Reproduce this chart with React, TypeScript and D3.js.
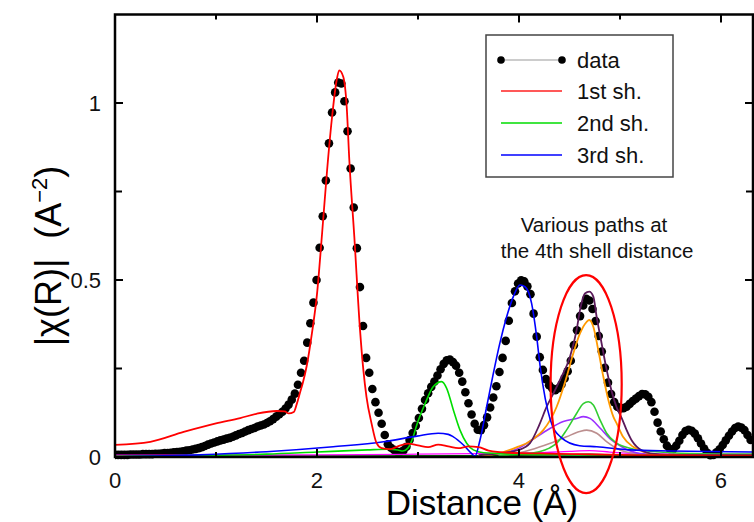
import React from "react";
import * as d3 from "d3";

const W = 754;
const H = 522;

// FT grid spacing of the data (Å)
const DR = 0.0307;

// |chi(R)| data points on the DR grid
const dataChi = [
  0.006, 0.006, 0.006, 0.006, 0.006, 0.007, 0.007, 0.007, 0.007, 0.008,
  0.008, 0.008, 0.008, 0.009, 0.009, 0.010, 0.011, 0.011, 0.012, 0.013,
  0.014, 0.015, 0.016, 0.018, 0.019, 0.021, 0.023, 0.025, 0.028, 0.031,
  0.035, 0.038, 0.041, 0.044, 0.047, 0.049, 0.052, 0.054, 0.057, 0.061,
  0.065, 0.068, 0.072, 0.076, 0.079, 0.082, 0.086, 0.089, 0.092, 0.096,
  0.101, 0.107, 0.114, 0.121, 0.128, 0.137, 0.148, 0.162, 0.179, 0.204,
  0.238, 0.272, 0.323, 0.378, 0.436, 0.500, 0.591, 0.680, 0.781, 0.886,
  0.973, 1.030, 1.058, 1.055, 1.005, 0.920, 0.815, 0.705, 0.590, 0.480,
  0.370, 0.280, 0.238, 0.192, 0.155, 0.125, 0.094, 0.062, 0.036, 0.026,
  0.020, 0.015, 0.014, 0.018, 0.029, 0.048, 0.068, 0.088, 0.110, 0.136,
  0.161, 0.180, 0.198, 0.213, 0.230, 0.248, 0.263, 0.273, 0.275, 0.268,
  0.258, 0.238, 0.213, 0.183, 0.152, 0.120, 0.094, 0.077, 0.076, 0.090,
  0.112, 0.140, 0.168, 0.200, 0.240, 0.280, 0.328, 0.385, 0.435, 0.468,
  0.490, 0.499, 0.496, 0.482, 0.460, 0.405, 0.340, 0.282, 0.246, 0.220,
  0.203, 0.194, 0.189, 0.194, 0.205, 0.222, 0.242, 0.272, 0.316, 0.358,
  0.398, 0.428, 0.447, 0.442, 0.418, 0.384, 0.342, 0.298, 0.252, 0.210,
  0.178, 0.155, 0.142, 0.137, 0.138, 0.142, 0.150, 0.158, 0.165, 0.172,
  0.178, 0.177, 0.170, 0.155, 0.128, 0.097, 0.072, 0.050, 0.032, 0.022,
  0.022, 0.032, 0.046, 0.062, 0.073, 0.077, 0.074, 0.066, 0.053, 0.038,
  0.024, 0.012, 0.005, 0.006, 0.013, 0.022, 0.034, 0.047, 0.060, 0.072,
  0.082, 0.086, 0.083, 0.076, 0.062, 0.048, 0.036,
];

// 1st shell fit
const shell1R = [0, 0.35, 0.68, 1.0, 1.24, 1.4, 1.6, 1.68, 1.72, 1.77, 1.8, 1.83, 1.86, 1.9, 1.95, 2.0, 2.05, 2.1, 2.146, 2.195, 2.22, 2.26, 2.294, 2.32, 2.37, 2.426, 2.459, 2.49, 2.54, 2.59, 2.64, 2.72, 2.8, 2.9, 3.0, 3.1, 3.2, 3.3, 3.4, 3.5, 3.6, 3.7, 3.9, 4.2, 4.6, 5.0, 5.5, 6.0, 6.35];
const shell1Chi = [0.034, 0.043, 0.071, 0.095, 0.11, 0.122, 0.13, 0.129, 0.123, 0.127, 0.15, 0.18, 0.21, 0.26, 0.35, 0.46, 0.63, 0.81, 0.952, 1.065, 1.092, 1.074, 0.99, 0.839, 0.62, 0.359, 0.246, 0.17, 0.095, 0.039, 0.025, 0.022, 0.03, 0.038, 0.033, 0.028, 0.035, 0.03, 0.025, 0.03, 0.028, 0.018, 0.012, 0.01, 0.008, 0.006, 0.005, 0.004, 0.004];

// 2nd shell fit
const shell2R = [0, 1.0, 1.5, 2.0, 2.5, 2.7, 2.8, 2.85, 2.9, 2.95, 2.987, 3.069, 3.152, 3.235, 3.284, 3.35, 3.416, 3.482, 3.548, 3.65, 3.8, 4.0, 4.5, 5.0, 5.5, 6.0, 6.35];
const shell2Chi = [0.002, 0.005, 0.008, 0.014, 0.02, 0.022, 0.02, 0.017, 0.025, 0.055, 0.09, 0.15, 0.199, 0.213, 0.194, 0.133, 0.076, 0.039, 0.02, 0.012, 0.01, 0.008, 0.006, 0.005, 0.004, 0.003, 0.003];

// 3rd shell fit
const shell3R = [0, 0.84, 1.5, 2.16, 2.66, 2.99, 3.2, 3.3, 3.35, 3.45, 3.53, 3.564, 3.614, 3.68, 3.746, 3.81, 3.878, 3.944, 4.01, 4.06, 4.125, 4.175, 4.21, 4.26, 4.31, 4.41, 4.6, 4.77, 5.1, 5.5, 6.09, 6.35];
const shell3Chi = [0.0, 0.006, 0.015, 0.029, 0.043, 0.059, 0.067, 0.064, 0.057, 0.034, 0.01, 0.002, 0.048, 0.142, 0.236, 0.321, 0.396, 0.453, 0.486, 0.481, 0.434, 0.34, 0.255, 0.165, 0.105, 0.057, 0.032, 0.029, 0.02, 0.017, 0.015, 0.014];

// 4th shell paths
const path4SumR = [3.6, 3.8, 4.0, 4.109, 4.2, 4.274, 4.35, 4.406, 4.505, 4.571, 4.604, 4.653, 4.696, 4.736, 4.769, 4.818, 4.868, 4.918, 4.967, 5.017, 5.066, 5.12, 5.165, 5.3, 5.5, 6.0, 6.35];
const path4SumChi = [0.005, 0.01, 0.02, 0.039, 0.09, 0.142, 0.185, 0.218, 0.283, 0.359, 0.415, 0.462, 0.467, 0.453, 0.396, 0.321, 0.246, 0.185, 0.14, 0.11, 0.076, 0.045, 0.029, 0.01, 0.006, 0.005, 0.005];

const path4aR = [3.6, 3.8, 3.91, 4.0, 4.076, 4.16, 4.24, 4.373, 4.472, 4.538, 4.604, 4.67, 4.696, 4.736, 4.785, 4.835, 4.885, 4.934, 4.967, 5.03, 5.13, 5.23, 5.36, 5.6, 6.35];
const path4aChi = [0.002, 0.01, 0.02, 0.03, 0.039, 0.055, 0.076, 0.142, 0.227, 0.293, 0.349, 0.382, 0.387, 0.368, 0.302, 0.227, 0.161, 0.114, 0.095, 0.057, 0.029, 0.015, 0.006, 0.004, 0.003];

const path4bR = [3.8, 4.0, 4.2, 4.3, 4.373, 4.47, 4.57, 4.637, 4.686, 4.736, 4.802, 4.868, 4.967, 5.1, 5.36, 5.7, 6.35];
const path4bChi = [0.004, 0.008, 0.015, 0.025, 0.039, 0.076, 0.123, 0.151, 0.156, 0.147, 0.105, 0.067, 0.039, 0.025, 0.015, 0.01, 0.008];

const path4cR = [3.6, 3.8, 4.0, 4.109, 4.274, 4.439, 4.57, 4.637, 4.703, 4.802, 4.9, 5.03, 5.2, 5.5, 6.35];
const path4cChi = [0.004, 0.01, 0.025, 0.045, 0.075, 0.1, 0.109, 0.114, 0.109, 0.082, 0.052, 0.027, 0.01, 0.006, 0.004];

const path4dR = [3.8, 4.0, 4.109, 4.31, 4.47, 4.6, 4.67, 4.77, 4.87, 5.0, 5.1, 5.4, 6.35];
const path4dChi = [0.004, 0.012, 0.02, 0.039, 0.057, 0.072, 0.076, 0.067, 0.043, 0.02, 0.012, 0.006, 0.004];

const path4eR = [0, 2.0, 3.0, 3.8, 4.2, 4.5, 4.7, 4.9, 5.2, 6.35];
const path4eChi = [0.005, 0.006, 0.008, 0.01, 0.012, 0.016, 0.018, 0.014, 0.009, 0.007];

const path4fR = [0, 2.0, 3.5, 4.4, 4.7, 5.0, 6.35];
const path4fChi = [0.003, 0.003, 0.004, 0.006, 0.008, 0.005, 0.004];

const xTicksMajor = [0, 2, 4, 6];
const xTicksMinor = [1, 3, 5];
const yTicksMajor = [0, 0.5, 1];
const yTicksMinor = [0.25, 0.75];
const yTickLabels = ["0", "0.5", "1"];

const legendLabels = ["data", "1st sh.", "2nd sh.", "3rd sh."];
const annotationLines = ["Various paths at", "the 4th shell distance"];

// highlighted region (ellipse) around 4th shell
const ellipseCenter = [4.665, 0.206];
const ellipseRadii = [0.352, 0.308];

const FONT = "'Liberation Sans', Arial, Helvetica, sans-serif";

function zip(a: number[], b: number[]): [number, number][] {
  return a.map((v, i) => [v, b[i]]);
}

export default function App() {
  const x = d3.scaleLinear().domain([0, 6.317]).range([115, 753]);
  const y = d3.scaleLinear().domain([0, 1.25]).range([457, 14.5]);

  const line = d3
    .line<[number, number]>()
    .x((d) => x(d[0]))
    .y((d) => y(d[1]))
    .curve(d3.curveMonotoneX);

  const dataPts = dataChi.map((v, i) => [i * DR, v] as [number, number]).filter((d) => d[0] <= 6.32);

  const series = [
    { r: path4fR, c: path4fChi, color: "#006400", w: 1.3 },
    { r: path4eR, c: path4eChi, color: "#ff00ff", w: 1.3 },
    { r: path4dR, c: path4dChi, color: "#bc8f8f", w: 1.6 },
    { r: path4cR, c: path4cChi, color: "#9b30ff", w: 1.6 },
    { r: path4bR, c: path4bChi, color: "#32cd32", w: 1.6 },
    { r: path4aR, c: path4aChi, color: "#ff9900", w: 1.8 },
    { r: path4SumR, c: path4SumChi, color: "#5a1a5a", w: 1.8 },
    { r: shell2R, c: shell2Chi, color: "#00dd00", w: 1.6 },
    { r: shell3R, c: shell3Chi, color: "#0000ff", w: 1.6 },
    { r: shell1R, c: shell1Chi, color: "#ff0000", w: 1.8 },
  ];

  const left = x(0);
  const right = x(6.317);
  const top = y(1.25);
  const bottom = y(0);

  const legendX = 486;
  const legendY = 35;
  const rowY = [60, 91, 123, 155];
  const legendColors = ["#000", "#ff2020", "#00dd00", "#0000ff"];

  return (
    <div style={{ position: "fixed", left: 0, top: 0, width: W, height: H, background: "#fff" }}>
      <svg width={W} height={H} viewBox={`0 0 ${W} ${H}`} style={{ display: "block" }}>
        <defs>
          <clipPath id="plotClip">
            <rect x={left} y={top} width={right - left} height={bottom - top + 8} />
          </clipPath>
        </defs>
        <rect x={0} y={0} width={W} height={H} fill="#fff" />

        <g clipPath="url(#plotClip)">
          {dataPts.map((d, i) => (
            <circle key={i} cx={x(d[0])} cy={y(d[1])} r={4.3} fill="#000" />
          ))}
          {series.map((s, i) => (
            <path key={i} d={line(zip(s.r, s.c)) || ""} fill="none" stroke={s.color} strokeWidth={s.w} strokeLinejoin="round" />
          ))}
        </g>

        {/* frame */}
        <rect x={left} y={top} width={right - left} height={bottom - top} fill="none" stroke="#000" strokeWidth={2.5} />

        {/* x ticks */}
        {xTicksMajor.map((t) => (
          <g key={"xM" + t}>
            <line x1={x(t)} x2={x(t)} y1={bottom} y2={bottom - 8} stroke="#000" strokeWidth={2} />
            <line x1={x(t)} x2={x(t)} y1={top} y2={top + 8} stroke="#000" strokeWidth={2} />
            <text x={x(t)} y={488} textAnchor="middle" fontFamily={FONT} fontSize={22} fill="#111">
              {t}
            </text>
          </g>
        ))}
        {xTicksMinor.map((t) => (
          <g key={"xm" + t}>
            <line x1={x(t)} x2={x(t)} y1={bottom} y2={bottom - 5} stroke="#000" strokeWidth={2} />
            <line x1={x(t)} x2={x(t)} y1={top} y2={top + 5} stroke="#000" strokeWidth={2} />
          </g>
        ))}

        {/* y ticks */}
        {yTicksMajor.map((t, i) => (
          <g key={"yM" + t}>
            <line x1={left} x2={left + 8} y1={y(t)} y2={y(t)} stroke="#000" strokeWidth={2} />
            <line x1={right} x2={right - 8} y1={y(t)} y2={y(t)} stroke="#000" strokeWidth={2} />
            <text x={101} y={y(t)} dy="0.36em" textAnchor="end" fontFamily={FONT} fontSize={22} fill="#111">
              {yTickLabels[i]}
            </text>
          </g>
        ))}
        {yTicksMinor.map((t) => (
          <g key={"ym" + t}>
            <line x1={left} x2={left + 7} y1={y(t)} y2={y(t)} stroke="#000" strokeWidth={2} />
            <line x1={right} x2={right - 7} y1={y(t)} y2={y(t)} stroke="#000" strokeWidth={2} />
          </g>
        ))}

        {/* axis titles */}
        <text x={482} y={515} textAnchor="middle" fontFamily={FONT} fontSize={35} fill="#000">
          Distance (Å)
        </text>
        <text
          transform="translate(48,256) rotate(-90)"
          textAnchor="middle"
          dy="0.35em"
          fontFamily={FONT}
          fontSize={36}
          fill="#000"
        >
          |χ(R)|{"\u00a0\u00a0"}(A
          <tspan fontSize={22} dy="-14">−2</tspan>
          <tspan dy="14">)</tspan>
        </text>

        {/* highlight ellipse */}
        <ellipse
          cx={x(ellipseCenter[0])}
          cy={y(ellipseCenter[1])}
          rx={x(ellipseCenter[0] + ellipseRadii[0]) - x(ellipseCenter[0])}
          ry={y(0) - y(ellipseRadii[1])}
          fill="none"
          stroke="#ff0000"
          strokeWidth={2.2}
        />

        {/* annotation */}
        <text x={594} y={232} textAnchor="middle" fontFamily={FONT} fontSize={20.5} fill="#111">
          {annotationLines[0]}
        </text>
        <text x={597} y={258} textAnchor="middle" fontFamily={FONT} fontSize={20.5} fill="#111">
          {annotationLines[1]}
        </text>

        {/* legend */}
        <rect x={legendX} y={legendY} width={187} height={142} fill="#fff" stroke="#444" strokeWidth={1.5} />
        {legendLabels.map((lab, i) => (
          <g key={lab}>
            {i === 0 ? (
              <g>
                <line x1={501} x2={562} y1={rowY[i]} y2={rowY[i]} stroke="#999" strokeWidth={1.2} />
                <circle cx={501} cy={rowY[i]} r={3.8} fill="#000" />
                <circle cx={562} cy={rowY[i]} r={3.8} fill="#000" />
              </g>
            ) : (
              <line x1={501} x2={562} y1={rowY[i]} y2={rowY[i]} stroke={legendColors[i]} strokeWidth={1.6} />
            )}
            <text x={577} y={rowY[i]} dy="0.36em" fontFamily={FONT} fontSize={22} fill="#111">
              {lab}
            </text>
          </g>
        ))}
      </svg>
    </div>
  );
}
